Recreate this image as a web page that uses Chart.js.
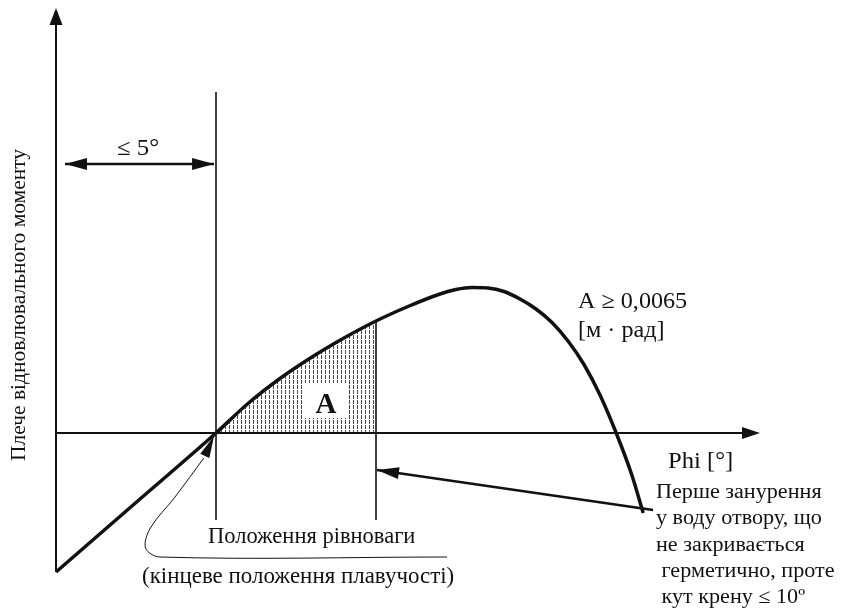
<!DOCTYPE html>
<html>
<head>
<meta charset="utf-8">
<script src="https://cdn.jsdelivr.net/npm/chart.js@4.4.1/dist/chart.umd.min.js"></script>
<style>
  body { margin: 0; background: #fff; }
  canvas { display: block; }
</style>
</head>
<body>
<canvas id="gz-chart" width="843" height="612"></canvas>
<script>
// Діаграма статичної остійності: плече GZ від кута крену
const phi = [0, 2.5, 5, 6, 7, 8, 9, 10, 11, 12, 12.5, 13, 13.5, 14, 14.5, 15, 15.5, 16, 16.5, 17, 17.5, 18, 18.35];
const gz = [-0.278, -0.139, 0, 0.059, 0.109, 0.152, 0.19, 0.224, 0.253, 0.278, 0.287, 0.291, 0.29, 0.283, 0.268, 0.248, 0.221, 0.184, 0.137, 0.076, 0.001, -0.085, -0.16];

// площа A між кутом рівноваги і кутом занурення отвору
const phiEquilibrium = 5;
const phiFlooding = 10;

// межі осей та допоміжних ліній
const axisPhiEnd = 22;
const axisGzTop = 0.85;
const axisGzBottom = -0.278;
const refLineTop = 0.682;
const refLineBottom = -0.174;

// стрілка «≤ 5°»
const dimGz = 0.538;
const dimPhi = [0.28, 4.94];

// стрілка від підпису про занурення отвору
const floodArrowPhi = [18.66, 10.03];
const floodArrowGz = [-0.154, -0.074];

// тонка стрілка до точки рівноваги
const eqArrowPhi = [12.22, 3.25, 2.8, 2.95, 3.72, 4.62];
const eqArrowGz = [-0.248, -0.248, -0.23, -0.19, -0.128, -0.05];
const eqArrowTip = [4.94, -0.006];

const pts = (xs, ys) => xs.map((x, i) => ({ x: x, y: ys[i] }));
const areaIdx = phi.map((p, i) => i).filter(i => phi[i] >= phiEquilibrium && phi[i] <= phiFlooding);

// вертикальне штрихування площі A
function hatch() {
  const c = document.createElement("canvas");
  c.width = 4;
  c.height = 5;
  const g = c.getContext("2d");
  g.fillStyle = "rgba(40,40,40,0.85)";
  g.fillRect(1, 0, 1, 4);
  return g.createPattern(c, "repeat");
}

function head(ctx, tx, ty, fx, fy, len, half) {
  const a = Math.atan2(ty - fy, tx - fx);
  ctx.beginPath();
  ctx.moveTo(tx, ty);
  ctx.lineTo(tx - len * Math.cos(a) + half * Math.sin(a), ty - len * Math.sin(a) - half * Math.cos(a));
  ctx.lineTo(tx - len * Math.cos(a) - half * Math.sin(a), ty - len * Math.sin(a) + half * Math.cos(a));
  ctx.closePath();
  ctx.fill();
}

// текст із горизонтальним розтягом
function text(ctx, str, x, y, size, sx, align) {
  ctx.save();
  ctx.font = size + "px 'Liberation Serif'";
  ctx.textAlign = align || "left";
  ctx.translate(x, y);
  ctx.scale(sx, 1);
  ctx.fillText(str, 0, 0);
  ctx.restore();
}

const labels = {
  id: "labels",
  afterDatasetsDraw(chart) {
    const ctx = chart.ctx;
    const x = v => chart.scales.x.getPixelForValue(v);
    const y = v => chart.scales.y.getPixelForValue(v);
    ctx.save();
    ctx.fillStyle = "#111";

    // наконечники стрілок
    head(ctx, x(0), y(axisGzTop), x(0), y(0), 17, 6.5);
    head(ctx, x(axisPhiEnd), y(0), x(0), y(0), 18, 6);
    head(ctx, x(dimPhi[0]), y(dimGz), x(dimPhi[1]), y(dimGz), 22, 6);
    head(ctx, x(dimPhi[1]), y(dimGz), x(dimPhi[0]), y(dimGz), 22, 6);
    head(ctx, x(floodArrowPhi[1]), y(floodArrowGz[1]), x(floodArrowPhi[0]), y(floodArrowGz[0]), 22, 6);
    head(ctx, x(eqArrowTip[0]), y(eqArrowTip[1]), x(eqArrowPhi[5]), y(eqArrowGz[5]), 22, 5);

    // позначка площі
    ctx.fillStyle = "#fff";
    ctx.fillRect(305, 383, 43, 35);
    ctx.fillStyle = "#111";
    ctx.font = "bold 29px 'Liberation Serif'";
    ctx.textAlign = "center";
    ctx.fillText("A", 326, 413);

    text(ctx, "≤ 5°", 138, 155, 23, 1.08, "center");
    text(ctx, "A ≥ 0,0065", 578, 308, 23, 1.05);
    text(ctx, "[м · рад]", 578, 337, 23, 1.05);
    text(ctx, "Phi [°]", 668, 468, 23, 1.07);

    const note = ["Перше занурення", "у воду отвору, що", "не закривається", " герметично, проте", " кут крену ≤ 10º"];
    note.forEach((t, i) => text(ctx, t, 656, 498 + i * 26.3, 20.5, 1.08));

    text(ctx, "Положення рівноваги", 208, 543, 22.5, 1.0);
    text(ctx, "(кінцеве положення плавучості)", 142, 583, 22.5, 1.02);

    ctx.translate(19, 305);
    ctx.rotate(-Math.PI / 2);
    ctx.textBaseline = "middle";
    text(ctx, "Плече відновлювального моменту", 0, 0, 21.5, 1.0, "center");
    ctx.restore();
  }
};

const line = (data, width, extra) => Object.assign({
  data: data,
  showLine: true,
  borderColor: "#111",
  borderWidth: width,
  pointRadius: 0,
  fill: false,
  clip: false,
  order: 1
}, extra || {});

new Chart(document.getElementById("gz-chart"), {
  type: "scatter",
  data: {
    datasets: [
      line(pts(phi, gz), 3.5, { cubicInterpolationMode: "monotone", order: 0 }),
      line(pts(areaIdx.map(i => phi[i]), areaIdx.map(i => gz[i])), 0, {
        cubicInterpolationMode: "monotone", fill: "origin", backgroundColor: hatch(), order: 5
      }),
      line(pts([0, 0], [axisGzBottom, axisGzTop - 0.02]), 2),
      line(pts([0, axisPhiEnd - 0.3], [0, 0]), 2),
      line(pts([phiEquilibrium, phiEquilibrium], [refLineBottom, refLineTop]), 1.6),
      line(pts([phiFlooding, phiFlooding], [refLineBottom, gz[phi.indexOf(phiFlooding)]]), 1.6),
      line(pts(dimPhi, [dimGz, dimGz]), 2.5),
      line(pts(floodArrowPhi, floodArrowGz), 2.5),
      line(pts(eqArrowPhi, eqArrowGz), 1, { tension: 0.35 })
    ]
  },
  options: {
    responsive: false,
    animation: false,
    layout: { padding: 0 },
    scales: {
      x: { type: "linear", min: -1.75, max: 24.59375, display: false },
      y: { type: "linear", min: -0.358, max: 0.866, display: false }
    },
    plugins: {
      legend: { display: false },
      tooltip: { enabled: false }
    }
  },
  plugins: [labels]
});
</script>
</body>
</html>
